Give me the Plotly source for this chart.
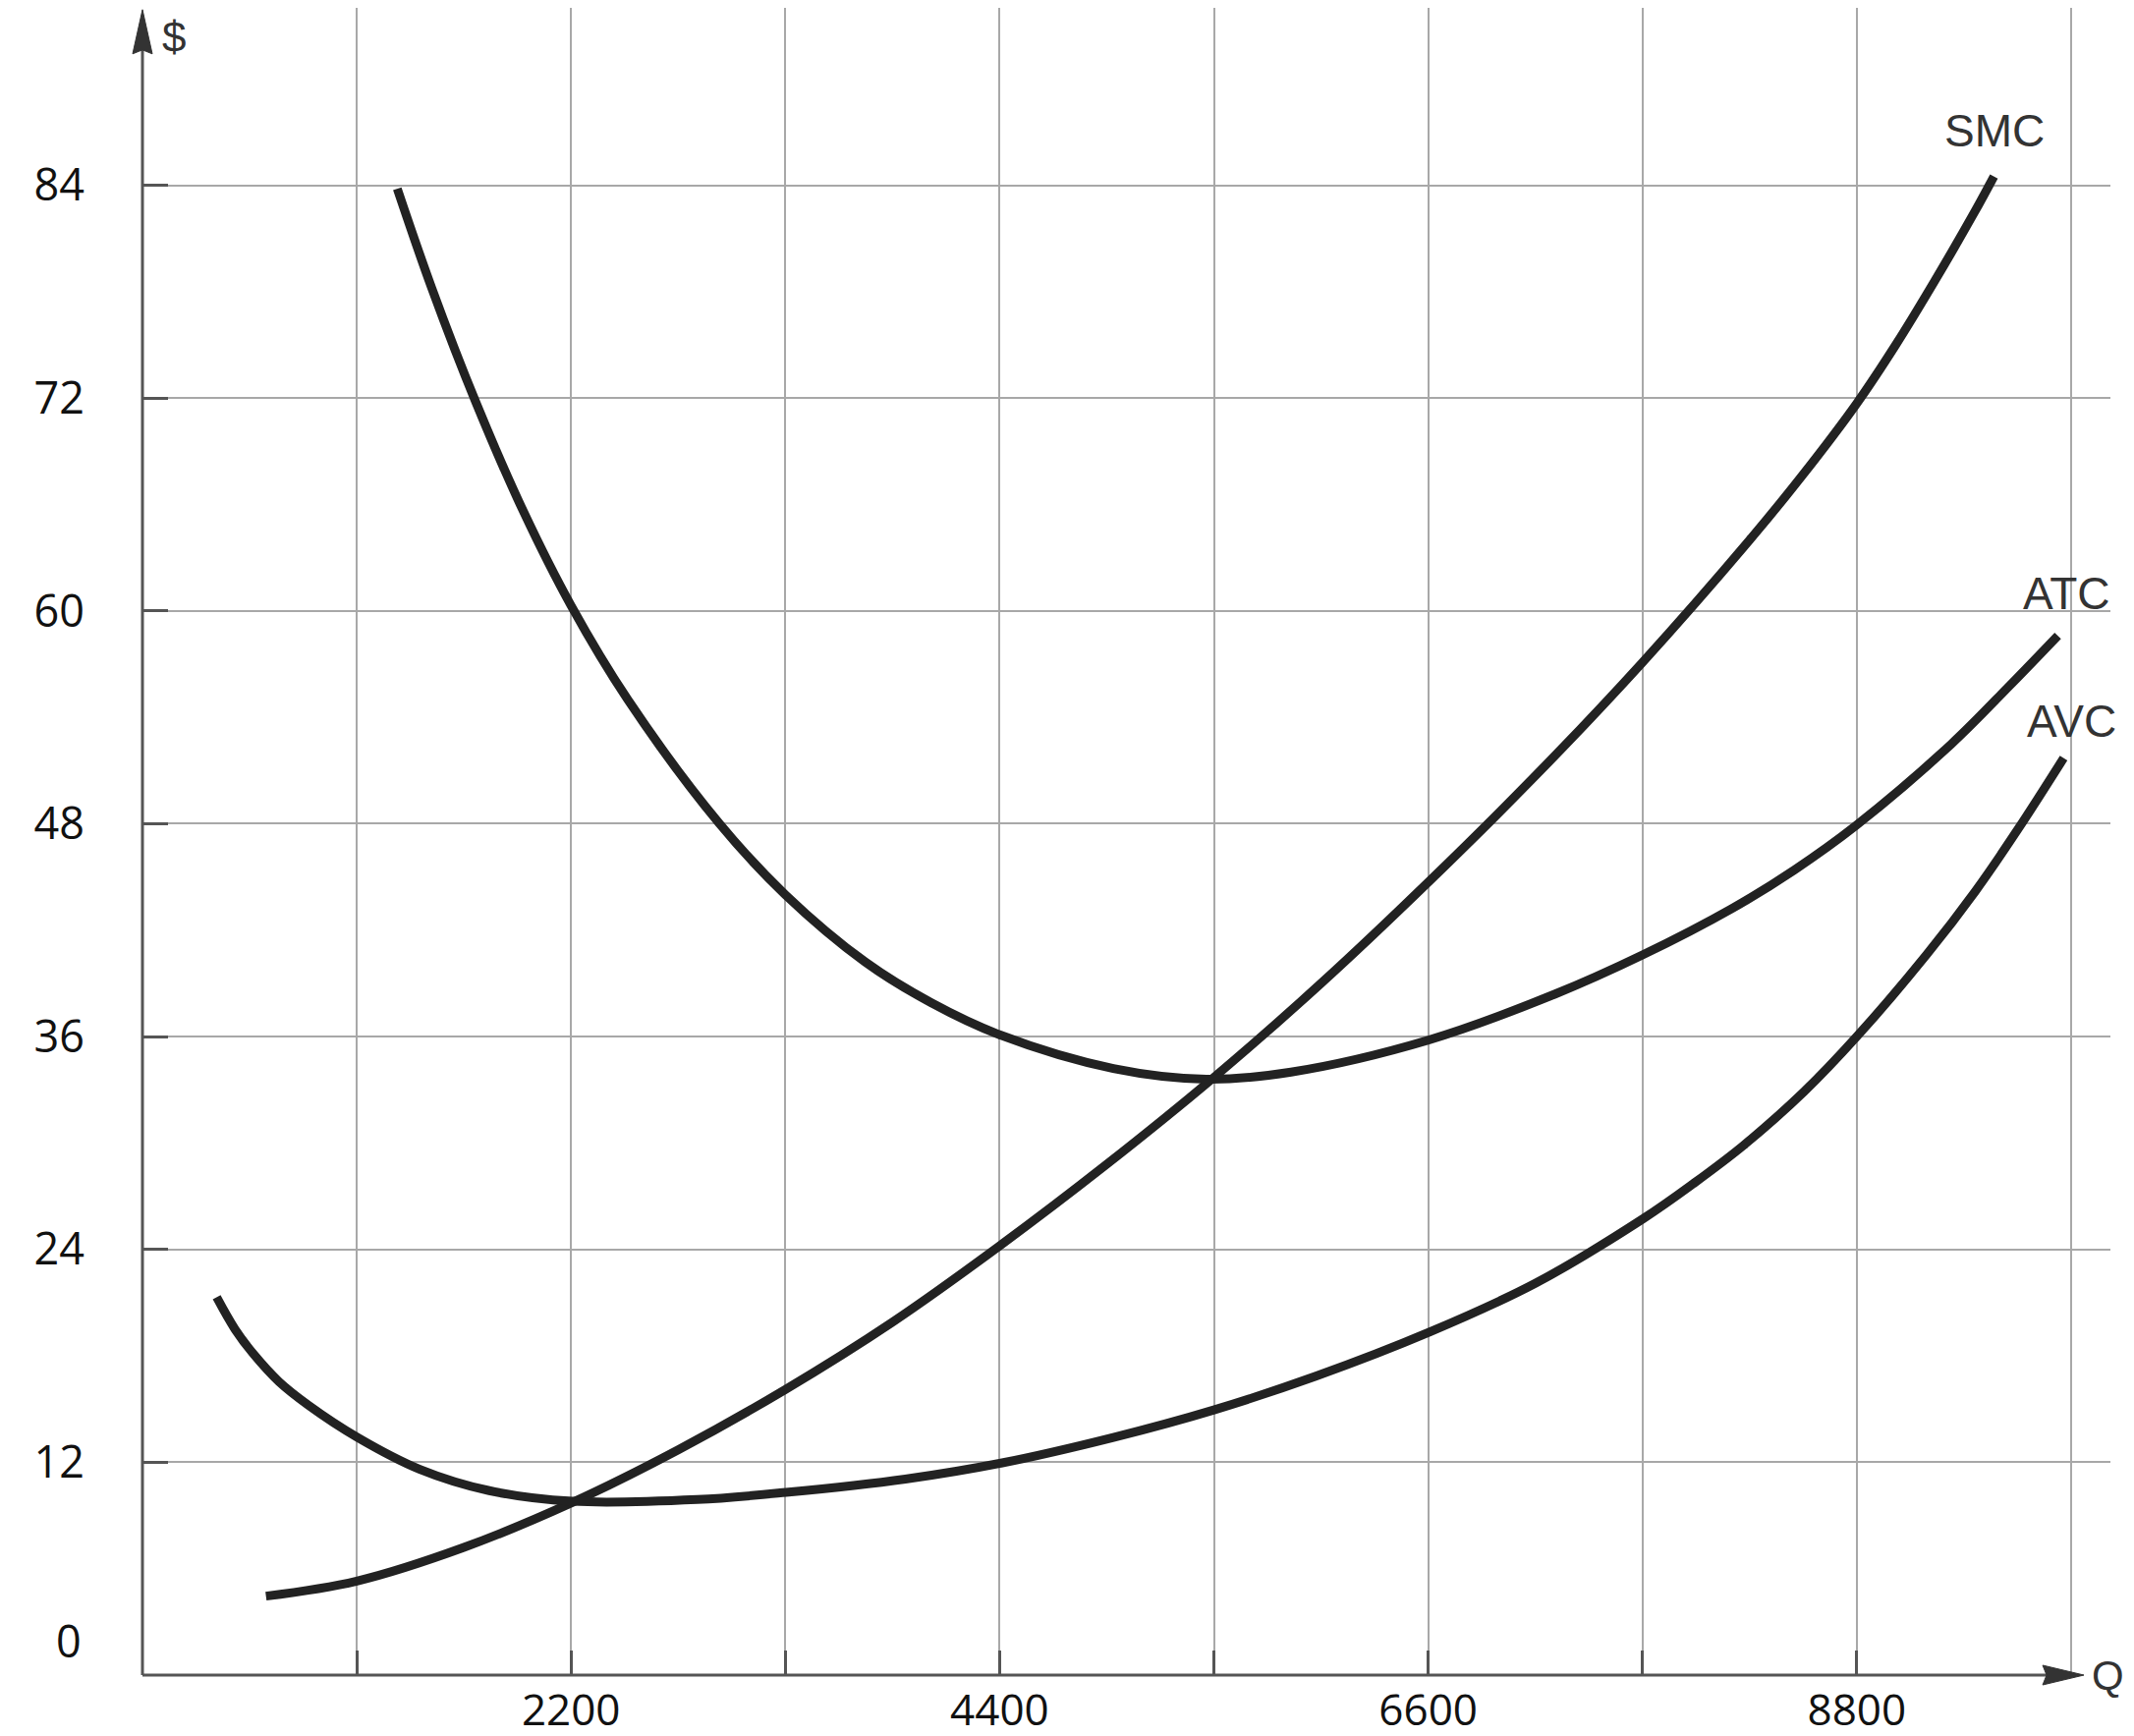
import plotly.graph_objects as go

# ---------------- data ----------------
q_smc = [634, 1100, 1650, 2200, 2750, 3300, 3850, 4400, 4950, 5500, 6050, 6600,
         7150, 7700, 8250, 8525, 8800, 9000, 9200, 9400, 9504]
smc = [4.45, 5.3, 7.2, 9.7, 12.7, 16.1, 19.9, 24.2, 28.8, 33.7, 39.0, 44.7,
       50.7, 57.1, 64.0, 67.7, 71.7, 75.0, 78.6, 82.4, 84.5]

q_atc = [1308, 1485, 1710, 1956, 2200, 2491, 2962, 3300, 3711, 4050, 4400, 4984, 5462,
         5896, 6600, 7252, 7700, 8156, 8480, 8796, 9286, 9586, 9832]
atc = [83.8, 78.2, 71.8, 65.6, 60.3, 55.0, 48.0, 44.0, 40.2, 37.9, 36.1, 34.2, 33.6,
       34.0, 35.8, 38.4, 40.6, 43.2, 45.4, 47.9, 52.5, 55.8, 58.6]

q_avc = [381, 475, 570, 700, 854, 1104, 1424, 1780, 2207, 2848, 3304, 3916, 4407, 4984,
         5500, 6023, 6609, 7152, 7706, 7960, 8217, 8530, 8800, 9157, 9409, 9628, 9862]
avc = [21.3, 19.5, 18.1, 16.55, 15.2, 13.4, 11.6, 10.4, 9.8, 9.9, 10.3, 11.05, 11.95,
       13.4, 14.95, 16.85, 19.35, 22.1, 25.75, 27.7, 29.85, 32.9, 36.0, 40.6, 44.2,
       47.7, 51.7]

x_grid = [1100, 2200, 3300, 4400, 5500, 6600, 7700, 8800]
x_labels = ["", "2200", "", "4400", "", "6600", "", "8800"]
x_grid_extra = [9900]
y_grid = [12, 24, 36, 48, 60, 72, 84]
y_labels = ["12", "24", "36", "48", "60", "72", "84"]

curve_labels = [("SMC", 9505, 87.1), ("ATC", 9880, 61.0), ("AVC", 9905, 53.8)]

XMAX = 10102
YMAX = 94.0
X_ARROW = 9966
Y_ARROW = 93.9

W, H = 2172, 1767
ML, MR, MT, MB = 137, 32, 0, 70

CURVE_COLOR = "#222222"
AXIS_COLOR = "#555555"
GRID_COLOR = "#a8a8a8"

fig = go.Figure()
for qx, vals in [(q_smc, smc), (q_atc, atc), (q_avc, avc)]:
    fig.add_trace(go.Scatter(
        x=qx, y=vals, mode="lines",
        line=dict(color=CURVE_COLOR, width=9, shape="spline", smoothing=1.0),
        hoverinfo="skip", showlegend=False))

fig.update_layout(
    width=W, height=H,
    margin=dict(l=ML, r=MR, t=MT, b=MB, pad=0),
    paper_bgcolor="white", plot_bgcolor="white",
    showlegend=False,
    xaxis=dict(
        range=[0, XMAX], showline=False, zeroline=False,
        tickvals=x_grid, ticktext=x_labels,
        showgrid=True, gridcolor=GRID_COLOR, gridwidth=2,
        ticks="inside", ticklen=25, tickwidth=3, tickcolor=AXIS_COLOR,
        tickfont=dict(family="Open Sans", size=44, color="#111111"),
        ticklabelstandoff=6,
        minor=dict(tickvals=x_grid_extra, showgrid=True, gridcolor=GRID_COLOR,
                   gridwidth=2, ticks=""),
    ),
    yaxis=dict(
        range=[0, YMAX], showline=False, zeroline=False,
        tickvals=y_grid, ticktext=y_labels,
        showgrid=True, gridcolor=GRID_COLOR, gridwidth=2,
        ticks="inside", ticklen=26, tickwidth=3, tickcolor=AXIS_COLOR,
        tickfont=dict(family="Open Sans", size=45, color="#111111"),
        ticklabelstandoff=58,
    ),
)

# axis lines (paper coords)
fig.add_shape(type="line", xref="paper", yref="paper",
              x0=0, x1=X_ARROW / XMAX - 0.005, y0=0, y1=0,
              line=dict(color=AXIS_COLOR, width=3))
fig.add_shape(type="line", xref="paper", yref="paper",
              x0=0, x1=0, y0=0, y1=Y_ARROW / YMAX - 0.01,
              line=dict(color=AXIS_COLOR, width=3))
# arrowheads
fig.add_shape(type="path", xref="paper", yref="paper",
              xsizemode="pixel", ysizemode="pixel",
              xanchor=X_ARROW / XMAX, yanchor=0,
              path="M0,0 L-42,10 L-38,0 L-42,-10 Z",
              fillcolor="#333333", line=dict(color="#333333", width=1))
fig.add_shape(type="path", xref="paper", yref="paper",
              xsizemode="pixel", ysizemode="pixel",
              xanchor=0, yanchor=Y_ARROW / YMAX,
              path="M0,0 L-10,-45 L0,-41 L10,-45 Z",
              fillcolor="#333333", line=dict(color="#333333", width=1))

# zero label
fig.add_annotation(x=0, y=0, xref="x", yref="y", text="0", showarrow=False,
                   xanchor="right", yanchor="middle", xshift=-60, yshift=36,
                   font=dict(family="Open Sans", size=45, color="#111111"))
# axis titles
fig.add_annotation(x=0, y=1, xref="x", yref="paper", text="$", showarrow=False,
                   xanchor="left", yanchor="top", xshift=18, yshift=-3,
                   font=dict(family="Liberation Sans", size=44, color="#333333"))
fig.add_annotation(x=X_ARROW, y=0, xref="x", yref="y", text="Q", showarrow=False,
                   xanchor="left", yanchor="middle", xshift=6,
                   font=dict(family="Liberation Sans", size=42, color="#333333"))

for txt, lx, ly in curve_labels:
    fig.add_annotation(x=lx, y=ly, xref="x", yref="y", text=txt, showarrow=False,
                       xanchor="center", yanchor="middle",
                       font=dict(family="Liberation Sans", size=46, color="#333333"))

fig.write_html("out.html")
